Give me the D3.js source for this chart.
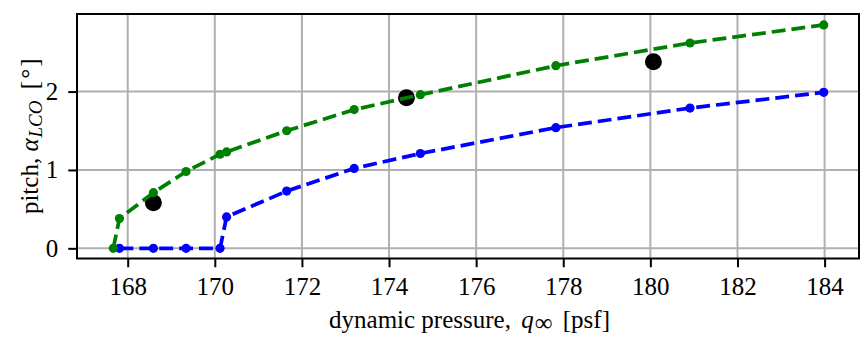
<!DOCTYPE html>
<html>
<head>
<meta charset="utf-8">
<script src="https://cdn.jsdelivr.net/npm/d3@7"></script>
<style>
  html, body { margin: 0; padding: 0; background: #fff; }
  svg { display: block; }
  text { font-family: "Liberation Serif", "Times New Roman", serif; fill: #000; }
</style>
</head>
<body>
<script>
// ---- data ----
const greenQ = [167.67, 167.81, 168.59, 169.34, 170.12, 170.27, 171.65, 173.20, 174.72, 177.83, 180.91, 183.98];
const greenAlpha = [0.00, 0.38, 0.71, 0.98, 1.20, 1.23, 1.50, 1.77, 1.96, 2.33, 2.62, 2.85];
const blueQ = [167.81, 168.59, 169.34, 170.12, 170.27, 171.65, 173.20, 174.72, 177.83, 180.91, 183.98];
const blueAlpha = [0.00, 0.00, 0.00, 0.00, 0.40, 0.73, 1.02, 1.21, 1.54, 1.79, 1.99];
const expQ = [168.59, 174.40, 180.07];
const expAlpha = [0.58, 1.92, 2.38];
const xTicks = [168, 170, 172, 174, 176, 178, 180, 182, 184];
const yTicks = [0, 1, 2];

const W = 864, H = 338;
const plot = { left: 77, right: 859, top: 14, bottom: 258.5 };

const svg = d3.select("body").append("svg").attr("width", W).attr("height", H);

const x = d3.scaleLinear().domain([166.836, 184.79]).range([plot.left, plot.right]);
const y = d3.scaleLinear().domain([-0.130, 2.99]).range([plot.bottom, plot.top]);

// grid
const grid = svg.append("g");
grid.selectAll("line.vx").data(xTicks).enter().append("line")
  .attr("x1", d => x(d)).attr("x2", d => x(d))
  .attr("y1", plot.top).attr("y2", plot.bottom)
  .attr("stroke", "#b0b0b0").attr("stroke-width", 2);
grid.selectAll("line.hy").data(yTicks).enter().append("line")
  .attr("x1", plot.left).attr("x2", plot.right)
  .attr("y1", d => y(d)).attr("y2", d => y(d))
  .attr("stroke", "#b0b0b0").attr("stroke-width", 2);

// clip
svg.append("clipPath").attr("id", "clip").append("rect")
  .attr("x", plot.left).attr("y", plot.top)
  .attr("width", plot.right - plot.left).attr("height", plot.bottom - plot.top);
const data = svg.append("g").attr("clip-path", "url(#clip)");

// experimental points (drawn first)
data.selectAll("circle.exp").data(expQ).enter().append("circle")
  .attr("cx", d => x(d)).attr("cy", (d, i) => y(expAlpha[i]))
  .attr("r", 8.5).attr("fill", "#000");

function series(qs, as, color) {
  const pts = qs.map((q, i) => [q, as[i]]);
  const line = d3.line().x(d => x(d[0])).y(d => y(d[1]));
  data.append("path").datum(pts).attr("d", line)
    .attr("fill", "none").attr("stroke", color).attr("stroke-width", 3.75)
    .attr("stroke-dasharray", "13.9,6");
  data.selectAll(null).data(pts).enter().append("circle")
    .attr("cx", d => x(d[0])).attr("cy", d => y(d[1]))
    .attr("r", 4.6).attr("fill", color);
}
series(blueQ, blueAlpha, "#0000ff");
series(greenQ, greenAlpha, "#008000");

// axes
const xAxis = d3.axisBottom(x).tickValues(xTicks).tickSize(8.75).tickPadding(10).tickFormat(d3.format("d"));
const gx = svg.append("g").attr("transform", `translate(0,${plot.bottom})`).call(xAxis);
const yAxis = d3.axisLeft(y).tickValues(yTicks).tickSize(8.75).tickPadding(10).tickFormat(d3.format("d"));
const gy = svg.append("g").attr("transform", `translate(${plot.left},0)`).call(yAxis);
[gx, gy].forEach(g => {
  g.select(".domain").remove();
  g.attr("font-family", null).attr("font-size", null);
  g.selectAll(".tick line").attr("stroke", "#000").attr("stroke-width", 2);
  g.selectAll(".tick text").attr("font-size", 25)
    .style("font-family", "'Liberation Serif', serif");
});

// frame
svg.append("rect").attr("x", plot.left).attr("y", plot.top)
  .attr("width", plot.right - plot.left).attr("height", plot.bottom - plot.top)
  .attr("fill", "none").attr("stroke", "#000").attr("stroke-width", 2);

// x label
const xl = svg.append("text").attr("x", 469.5).attr("y", 328)
  .attr("text-anchor", "middle").attr("font-size", 25);
xl.append("tspan").text("dynamic pressure, ");
xl.append("tspan").attr("font-style", "italic").attr("dx", 4).text("q");
xl.append("tspan").attr("font-size", 25).attr("dy", 3).attr("dx", 1).text("∞");
xl.append("tspan").attr("dy", -3).attr("dx", 4).text(" [psf]");

// y label
const yl = svg.append("text").attr("transform", `translate(38,${(plot.top + plot.bottom) / 2}) rotate(-90)`)
  .attr("text-anchor", "middle").attr("font-size", 25);
yl.append("tspan").text("pitch, ");
yl.append("tspan").attr("font-style", "italic").text("α");
yl.append("tspan").attr("font-style", "italic").attr("font-size", 19).attr("dy", 4).attr("dx", 1).text("LCO");
yl.append("tspan").attr("dy", -4).attr("dx", 5).text(" [\u200A°\u200A]");
</script>
</body>
</html>
